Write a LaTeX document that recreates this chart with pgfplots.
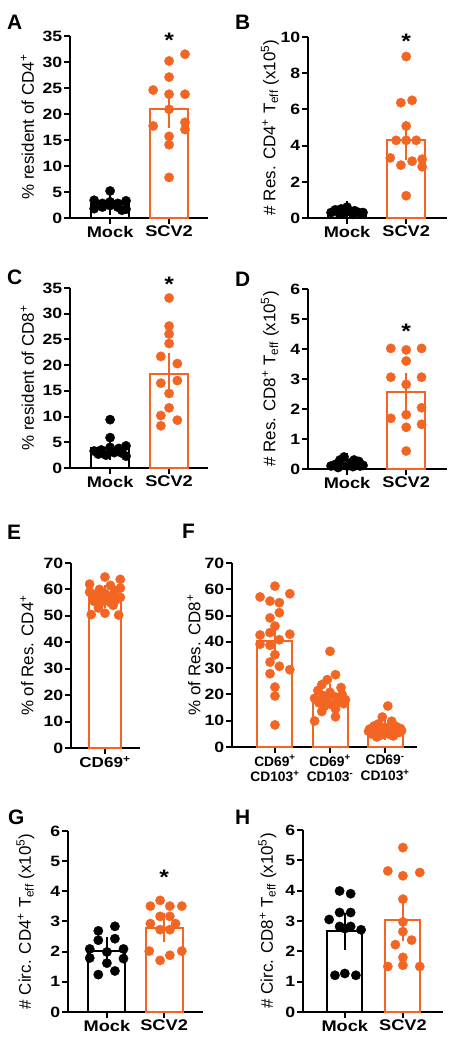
\documentclass[border=0pt]{standalone}
\usepackage{fontspec}
\setmainfont{Liberation Sans}
\newfontfamily\wide[FakeStretch=1.18]{Liberation Sans}
\usepackage{pgfplots}
\pgfplotsset{compat=1.18}
\definecolor{sc}{RGB}{242,101,34}
\tikzset{
  star/.style={font=\wide\bfseries\fontsize{21}{21}\selectfont, anchor=base, yshift=-10.5bp, inner sep=0pt},
  plab/.style={font=\bfseries\fontsize{21}{21}\selectfont, anchor=base west, inner sep=0pt},
}
\pgfplotsset{
  gp/.style={
    scale only axis,
    axis x line=bottom, axis y line=left,
    axis line style={-, line width=2bp, black},
    tick align=outside,
    major tick length=6bp,
    tick style={line width=2bp, black},
    ymin=0, clip=false,
    /pgf/number format/assume math mode=true,
    yticklabel style={font=\wide\bfseries\fontsize{15}{15}\selectfont, inner sep=1.5bp},
    xticklabel style={font=\wide\bfseries\fontsize{15.5}{15.5}\selectfont, inner sep=2bp},
    ylabel style={font=\fontsize{17}{17}\selectfont, anchor=center},
    xtick={0,1}, xticklabels={Mock,SCV2},
  },
  bk/.style={ybar, bar width=38bp, bar shift=0pt, draw=black, fill=none, line width=2bp},
  ob/.style={ybar, bar width=38bp, bar shift=0pt, draw=sc, fill=none, line width=2bp},
  bkp/.style={only marks, mark=*, mark size=4.7bp, mark options={fill=black, draw=black, line width=0.3bp}},
  obp/.style={only marks, mark=*, mark size=4.7bp, mark options={fill=sc, draw=sc, line width=0.3bp}},
  eb/.style={draw=none, mark=none, error bars/.cd, y dir=both, y explicit,
    error bar style={line width=2bp, draw=#1},
    error mark options={line width=2bp, draw=#1, mark size=9.5bp}},
}
\begin{document}
\begin{tikzpicture}
\useasboundingbox (0,0) rectangle (455bp,1050bp);
\node[plab] at (7bp,1020bp) {A};
\node[plab] at (235bp,1020bp) {B};
\node[plab] at (7bp,765bp) {C};
\node[plab] at (235bp,763bp) {D};
\node[plab] at (7bp,510bp) {E};
\node[plab] at (182bp,511bp) {F};
\node[plab] at (8bp,225bp) {G};
\node[plab] at (235bp,225bp) {H};

% ---------- A ----------
\begin{axis}[gp, at={(70bp,832bp)}, anchor=south west, width=138bp, height=182bp,
  xmin=-0.68, xmax=1.66, ymax=35, ytick={0,5,...,35},
  ylabel={\% resident of CD4\textsuperscript{+}},
  ylabel style={at={([xshift=-42.5bp]axis description cs:0,0.5)}}]
\addplot[bk] coordinates {(0,2.7)};
\addplot[ob] coordinates {(1,20.9)};
\addplot[bkp] coordinates {(0,5.2) (-0.27,3.4) (-0.13,2.8) (0,3.1) (0.13,2.8) (0.27,3.3) (-0.27,1.8) (-0.13,2.1) (0,2.4) (0.13,2.1) (0.27,1.7) (0.2,1.5)};
\addplot[obp] coordinates {(1.27,31.5) (1,30.2) (1,27.1) (0.73,24.6) (1,23.8) (1.27,23.8) (1,20.9) (1.27,18.4) (0.73,17.7) (1.27,17.0) (1,15.7) (1,14.1) (1,7.8)};
\addplot[eb=black] coordinates {(0,2.7) +- (0,0.3)};
\addplot[eb=sc] coordinates {(1,20.9) +- (0,1.85)};
\node[star] at (axis cs:1,34.8) {*};
\end{axis}

% ---------- B ----------
\begin{axis}[gp, at={(308bp,832bp)}, anchor=south west, width=139bp, height=181bp,
  xmin=-0.66, xmax=1.69, ymax=10, ytick={0,2,...,10},
  ylabel={\# Res. CD4\textsuperscript{+} T\textsubscript{eff} (x10\textsuperscript{5})},
  ylabel style={at={([xshift=-38bp]axis description cs:0,0.5)}}]
\addplot[bk] coordinates {(0,0.35)};
\addplot[ob] coordinates {(1,4.3)};
\addplot[bkp] coordinates {(-0.27,0.3) (-0.2,0.45) (-0.1,0.5) (0,0.6) (0.05,0.35) (0.13,0.4) (0.2,0.3) (0.27,0.3) (-0.13,0.25) (0.1,0.2) (-0.05,0.3) (0.25,0.25)};
\addplot[obp] coordinates {(1,8.92) (0.91,6.37) (1.1,6.5) (1,5.08) (0.83,4.29) (1,4.29) (1.17,4.29) (0.73,3.32) (1.1,3.14) (0.91,2.92) (1.27,3.25) (1.27,2.83) (1,1.23)};
\addplot[eb=black] coordinates {(0,0.35) +- (0,0.04)};
\addplot[eb=sc] coordinates {(1,4.3) +- (0,0.55)};
\node[star] at (axis cs:1,9.94) {*};
\end{axis}

% ---------- C ----------
\begin{axis}[gp, at={(70bp,582bp)}, anchor=south west, width=138bp, height=180bp,
  xmin=-0.68, xmax=1.66, ymax=35, ytick={0,5,...,35},
  ylabel={\% resident of CD8\textsuperscript{+}},
  ylabel style={at={([xshift=-42.5bp]axis description cs:0,0.5)}}]
\addplot[bk] coordinates {(0,3.97)};
\addplot[ob] coordinates {(1,18.3)};
\addplot[bkp] coordinates {(0,9.4) (0,5.9) (-0.27,3.3) (-0.15,3.5) (0,4.0) (0.15,3.8) (0.27,4.3) (-0.2,2.7) (-0.07,2.5) (0.07,3.0) (0.2,2.9) (0.27,2.3)};
\addplot[obp] coordinates {(1,33.05) (1,27.6) (1,26.05) (1,24.2) (0.86,21.7) (1.14,20.3) (0.86,16.5) (1.14,17.0) (1,14.5) (1,11.7) (0.86,10.2) (1.14,9.3) (0.86,8.2)};
\addplot[eb=black] coordinates {(0,3.97) +- (0,0.57)};
\addplot[eb=sc] coordinates {(1,18.3) +- (0,2.2)};
\node[star] at (axis cs:1,36.3) {*};
\end{axis}

% ---------- D ----------
\begin{axis}[gp, at={(308bp,581bp)}, anchor=south west, width=139bp, height=180bp,
  xmin=-0.66, xmax=1.69, ymax=6, ytick={0,1,...,6},
  ylabel={\# Res. CD8\textsuperscript{+} T\textsubscript{eff} (x10\textsuperscript{5})},
  ylabel style={at={([xshift=-38bp]axis description cs:0,0.5)}}]
\addplot[bk] coordinates {(0,0.18)};
\addplot[ob] coordinates {(1,2.55)};
\addplot[bkp] coordinates {(-0.27,0.1) (-0.2,0.15) (-0.12,0.3) (-0.05,0.4) (0.05,0.2) (0.12,0.3) (0.2,0.25) (0.27,0.12) (-0.15,0.05) (0,0.1) (0.1,0.08) (0.22,0.1)};
\addplot[obp] coordinates {(0.74,4.02) (1,3.97) (1.26,4.02) (1,3.6) (0.74,3.06) (1.26,3.06) (1,2.82) (1.26,2.04) (0.74,1.69) (1,1.81) (1.26,1.49) (1,1.39) (1,0.6)};
\addplot[eb=black] coordinates {(0,0.18) +- (0,0.03)};
\addplot[eb=sc] coordinates {(1,2.55) +- (0,0.32)};
\node[star] at (axis cs:1,4.69) {*};
\end{axis}

% ---------- E ----------
\begin{axis}[gp, at={(71bp,302bp)}, anchor=south west, width=69bp, height=185bp,
  xmin=-0.62, xmax=0.64, ymax=70, ytick={0,10,...,70},
  xtick={0}, xticklabels={CD69\textsuperscript{+}},
  xticklabel style={font=\wide\bfseries\fontsize{14.5}{15}\selectfont},
  ylabel={\% of Res. CD4\textsuperscript{+}},
  ylabel style={at={([xshift=-44bp]axis description cs:0,0.5)}}]
\addplot[ob, bar width=32bp] coordinates {(0,57.2)};
\addplot[obp] coordinates {(0,64.7) (0.28,63.8) (-0.28,62.0) (0.1,61.5) (0.28,60.5) (-0.1,60.0) (0.18,59.5) (-0.28,59.0) (0,58.5) (-0.15,58.3) (0.15,58.0) (-0.22,57.5) (0.28,57.0) (0.05,56.8) (-0.05,56.5) (0.2,56.0) (-0.2,55.5) (0.1,55.0) (-0.1,54.5) (0.15,54.0) (-0.12,53.0) (0,51.0) (-0.25,50.5) (0.25,50.3)};
\addplot[eb=sc] coordinates {(0,57.2) +- (0,0.8)};
\end{axis}

% ---------- F ----------
\begin{axis}[gp, at={(232bp,303bp)}, anchor=south west, width=185bp, height=184bp,
  xmin=-0.78, xmax=2.58, ymax=70, ytick={0,10,...,70},
  xtick={0,1,2},
  xticklabels={{CD69\textsuperscript{+}\\CD103\textsuperscript{+}},{CD69\textsuperscript{+}\\CD103\textsuperscript{-}},{CD69\textsuperscript{-}\\CD103\textsuperscript{+}}},
  xticklabel style={font=\bfseries\fontsize{13.8}{15.5}\selectfont, align=center},
  ylabel={\% of Res. CD8\textsuperscript{+}},
  ylabel style={at={([xshift=-38bp]axis description cs:0,0.5)}}]
\addplot[ob, bar width=35bp] coordinates {(0,40.2) (1,19.2) (2,6.9)};
\addplot[obp] coordinates {(0,61.2) (0.27,58.3) (-0.27,57.1) (-0.09,55.5) (0.08,54.9) (0.08,51.1) (-0.09,49.1) (0,46.0) (-0.09,43.5) (0.27,42.9) (-0.27,42.6) (0.08,40.8) (-0.27,39.1) (-0.09,38.7) (0,35.1) (-0.09,32.3) (0.08,30.7) (0.27,29.4) (-0.09,27.9) (0,22.8) (0,19.4) (0,8.4)};
\addplot[obp] coordinates {(1,36.4) (1.1,27.5) (0.95,25.6) (0.85,23.7) (1.2,22.6) (0.78,21.5) (1.0,20.8) (1.22,20.0) (0.88,19.5) (1.1,19.0) (0.72,18.5) (1.28,18.0) (0.95,17.5) (1.15,17.0) (0.8,16.8) (1.25,16.5) (1.05,16.0) (0.9,15.5) (1.1,14.5) (0.85,13.5) (1.1,11.5) (0.72,9.9)};
\addplot[obp] coordinates {(2.05,15.6) (1.95,11.4) (2.12,9.8) (1.88,8.8) (2.2,7.8) (1.8,8.0) (2.0,7.5) (2.28,7.0) (1.72,6.8) (2.1,6.5) (1.9,6.3) (2.3,6.2) (1.7,6.0) (2.18,6.0) (1.82,5.8) (2.0,5.5) (2.25,5.5) (1.75,5.0) (2.08,4.8) (1.92,4.5) (2.15,4.2) (1.85,3.8)};
\addplot[eb=sc] coordinates {(0,40.2) +- (0,2.8) (1,19.2) +- (0,1.2) (2,6.9) +- (0,0.6)};
\end{axis}

% ---------- G ----------
\begin{axis}[gp, at={(68bp,38bp)}, anchor=south west, width=135bp, height=181bp,
  xmin=-0.68, xmax=1.68, ymax=6, ytick={0,1,...,6},
  ylabel={\# Circ. CD4\textsuperscript{+} T\textsubscript{eff} (x10\textsuperscript{5})},
  ylabel style={at={([xshift=-42.5bp]axis description cs:0,0.5)}}]
\addplot[bk, bar width=37bp] coordinates {(0,2.02)};
\addplot[ob, bar width=37bp] coordinates {(1,2.8)};
\addplot[bkp] coordinates {(0.14,2.84) (-0.15,2.69) (-0.15,2.38) (0.14,2.43) (-0.3,2.09) (0.29,2.09) (0,1.99) (-0.3,1.79) (0.29,1.77) (0,1.62) (0.14,1.36) (-0.15,1.24)};
\addplot[obp] coordinates {(0.93,3.70) (0.76,3.51) (1.1,3.51) (1.31,3.51) (0.93,3.17) (1.1,3.17) (0.76,2.93) (1.2,2.93) (0.93,2.73) (1.1,2.73) (0.74,2.02) (1.31,2.02) (1.1,1.88) (0.93,1.71)};
\addplot[eb=black] coordinates {(0,2.02) +- (0,0.14)};
\addplot[eb=sc] coordinates {(1,2.8) +- (0,0.18)};
\node[star] at (axis cs:1,4.57) {*};
\end{axis}

% ---------- H ----------
\begin{axis}[gp, at={(303bp,38bp)}, anchor=south west, width=140bp, height=182bp,
  xmin=-0.72, xmax=1.69, ymax=6, ytick={0,1,...,6},
  ylabel={\# Circ. CD8\textsuperscript{+} T\textsubscript{eff} (x10\textsuperscript{5})},
  ylabel style={at={([xshift=-35.5bp]axis description cs:0,0.5)}}]
\addplot[bk, bar width=35bp] coordinates {(0,2.66)};
\addplot[ob, bar width=35bp] coordinates {(1,3.03)};
\addplot[bkp] coordinates {(-0.09,3.99) (0.1,3.9) (-0.09,3.28) (0.1,3.28) (-0.27,3.05) (-0.09,2.82) (0.1,2.82) (0.28,2.71) (0,2.75) (-0.17,1.21) (0,1.27) (0.19,1.21)};
\addplot[obp] coordinates {(1,5.42) (0.74,4.65) (1.29,4.6) (1,4.49) (1,3.72) (1,2.97) (1,2.65) (1.15,2.37) (0.87,2.22) (1,1.8) (1,1.54) (0.74,1.5) (1.29,1.5)};
\addplot[eb=black] coordinates {(0,2.66) +- (0,0.29)};
\addplot[eb=sc] coordinates {(1,3.03) +- (0,0.39)};
\end{axis}
\end{tikzpicture}
\end{document}
